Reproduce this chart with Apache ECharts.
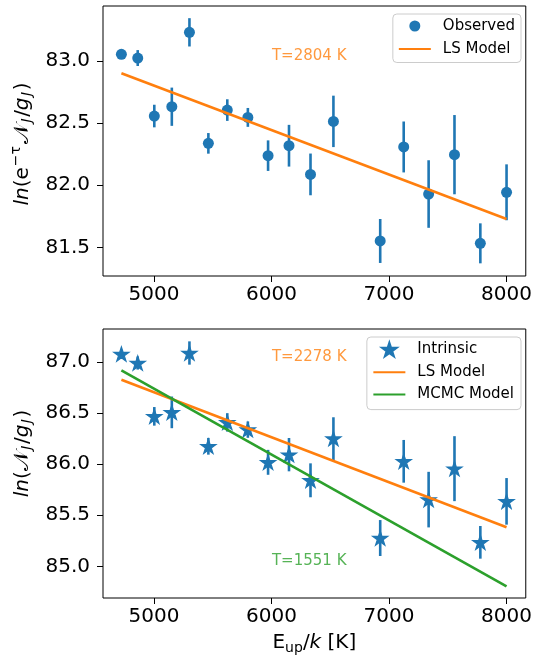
<!DOCTYPE html>
<html><head><meta charset="utf-8">
<script src="https://cdn.jsdelivr.net/npm/echarts@6/dist/echarts.min.js"></script>
<style>html,body{margin:0;padding:0;background:#fff}#c{width:535px;height:660px}</style>
</head><body><div id="c"></div>
<script>
// ---- data ----
const energies = [4723,4862,5003,5152,5302,5463,5624,5799,5971,6149,6332,6527,6925,7125,7337,7557,7777,8000];
const observed = [83.054,83.024,82.557,82.632,83.231,82.337,82.605,82.546,82.238,82.318,82.087,82.514,81.551,82.308,81.929,82.246,81.532,81.943];
const observedErr = [0.02,0.064,0.091,0.154,0.114,0.083,0.087,0.076,0.123,0.168,0.168,0.207,0.177,0.205,0.272,0.319,0.161,0.225];
const intrinsic = [87.078,86.990,86.468,86.507,87.088,86.175,86.409,86.338,86.018,86.093,85.842,86.250,85.277,86.028,85.653,85.956,85.235,85.636];
const intrinsicErr = [0.02,0.064,0.091,0.155,0.114,0.082,0.090,0.080,0.122,0.163,0.166,0.209,0.176,0.209,0.272,0.318,0.160,0.228];
const modelX = [4723, 8000];
const lsObserved = [82.901, 81.728];
const lsIntrinsic = [86.827, 85.382];
const mcmcIntrinsic = [86.918, 84.804];
const xTicks = [5000, 6000, 7000, 8000];
const topYTicks = [81.5, 82.0, 82.5, 83.0];
const bottomYTicks = [85.0, 85.5, 86.0, 86.5, 87.0];
const topNotes = [{x: 6321, y: 83.04, text: 'T=2804 K', color: '#ff7f0e'}];
const bottomNotes = [{x: 6321, y: 87.046, text: 'T=2278 K', color: '#ff7f0e'}, {x: 6321, y: 85.049, text: 'T=1551 K', color: '#2ca02c'}];

// ---- styling ----
const FONT = 'DejaVu Sans';
const BLUE = '#1f77b4', ORANGE = '#ff7f0e', GREEN = '#2ca02c';
function starPath() {
  const pts = [];
  for (let i = 0; i < 10; i++) {
    const r = i % 2 === 0 ? 1 : 0.381966;
    const a = -Math.PI / 2 + i * Math.PI / 5;
    pts.push((r * Math.cos(a)).toFixed(4) + ' ' + (r * Math.sin(a)).toFixed(4));
  }
  return 'path://M' + pts.join(' L') + ' Z';
}
const STAR = starPath();

const chart = echarts.init(document.getElementById('c'), null, {renderer: 'canvas'});
const labelStyle = {fontFamily: FONT, fontSize: 20, color: '#000'};
function xAxis(gi, showName) {
  return {
    type: 'value', gridIndex: gi, min: 4566.5, max: 8163.5,
    axisLine: {show: false},
    axisTick: {show: true, length: 6, inside: false, customValues: xTicks, lineStyle: {color: '#000', width: 1}},
    axisLabel: Object.assign({margin: 9, customValues: xTicks, formatter: v => String(v)}, labelStyle),
    splitLine: {show: false},
    name: showName ? '{n|E}{sub|up}{n|/}{i|k}{n| [K]}' : '',
    nameLocation: 'middle', nameGap: 33,
    nameTextStyle: {fontFamily: FONT, fontSize: 20, color: '#000', rich: {
      n: {fontFamily: FONT, fontSize: 20, color: '#000'},
      i: {fontFamily: FONT, fontSize: 20, fontStyle: 'italic', color: '#000'},
      sub: {fontFamily: FONT, fontSize: 14, color: '#000', padding: [10, 0, 0, 0]}
    }}
  };
}
function yAxis(gi, min, max, ticks, name, shiftPad) {
  return {
    type: 'value', gridIndex: gi, min: min, max: max,
    axisLine: {show: false},
    axisTick: {show: true, length: 6, customValues: ticks, lineStyle: {color: '#000', width: 1}},
    axisLabel: Object.assign({margin: 13, customValues: ticks, formatter: v => v.toFixed(1)}, labelStyle),
    splitLine: {show: false},
    name: name, nameLocation: 'middle', nameRotate: 90, nameGap: 67,
    nameTextStyle: {fontFamily: FONT, fontSize: 20, color: '#000', padding: shiftPad, rich: {
      n: {fontFamily: FONT, fontSize: 20, color: '#000'},
      i: {fontFamily: FONT, fontSize: 20, fontStyle: 'italic', color: '#000'},
      c: {fontFamily: FONT, fontSize: 21, color: '#000'},
      sup: {fontFamily: FONT, fontSize: 14, color: '#000', padding: [0, 2, 12, 1]},
      sub: {fontFamily: FONT, fontSize: 14, fontStyle: 'italic', color: '#000', padding: [10, 1.5, 0, 1.5]}
    }}
  };
}
function errSeries(xi, yi, ys, errs) {
  return {
    type: 'custom', xAxisIndex: xi, yAxisIndex: yi, silent: true, z: 2,
    data: energies.map((x, i) => [x, ys[i], errs[i]]),
    renderItem: (params, api) => {
      const x = api.value(0), y = api.value(1), e = api.value(2);
      const p1 = api.coord([x, y - e]), p2 = api.coord([x, y + e]);
      return {type: 'line', shape: {x1: p1[0], y1: p1[1], x2: p2[0], y2: p2[1]}, style: {stroke: BLUE, lineWidth: 2.6}};
    }
  };
}
function noteSeries(xi, yi, notes) {
  return notes.map(n => ({
    type: 'scatter', xAxisIndex: xi, yAxisIndex: yi, silent: true, symbolSize: 1,
    itemStyle: {color: 'rgba(0,0,0,0)'}, z: 5,
    data: [[n.x, n.y]],
    label: {show: true, position: 'inside', formatter: n.text, color: n.color, fontFamily: FONT, fontSize: 15}
  }));
}
const legendBase = {
  orient: 'vertical', right: 14, itemWidth: 32, itemGap: 8,
  backgroundColor: '#fff', borderColor: '#cccccc', borderWidth: 1, borderRadius: 4,
  textStyle: {fontFamily: FONT, fontSize: 15, color: '#000', padding: [0, 0, 0, 7]},
  selectedMode: false
};
const hideSym = {color: 'rgba(0,0,0,0)', borderWidth: 0};

const option = {
  animation: false,
  backgroundColor: '#fff',
  grid: [
    {left: 103, top: 6, width: 425, height: 270, show: true, borderColor: '#000', borderWidth: 1, backgroundColor: 'transparent'},
    {left: 103, top: 329, width: 425, height: 269, show: true, borderColor: '#000', borderWidth: 1, backgroundColor: 'transparent'}
  ],
  xAxis: [xAxis(0, false), xAxis(1, true)],
  yAxis: [
    yAxis(0, 81.269, 83.443, topYTicks, '{i|ln}{n|(e}{sup|−τ}{c|𝒩}{sub|J}{n|/}{i|g}{sub|J}{n|)}', [0, 6, 0, 0]),
    yAxis(1, 84.69, 87.323, bottomYTicks, '{i|ln}{n|(}{c|𝒩}{sub|J}{n|/}{i|g}{sub|J}{n|)}', [0, 0, 0, 20])
  ],
  legend: [
    Object.assign({}, legendBase, {top: 14, itemHeight: 11, padding: [4.5, 6, 6, 5],
      data: ['Observed', {name: 'LS Model', itemStyle: hideSym}]}),
    Object.assign({}, legendBase, {top: 337, itemHeight: 14, itemGap: 7.3, padding: [4.5, 7, 7.5, 5.5],
      data: ['Intrinsic', {name: 'LS Model ', itemStyle: hideSym}, {name: 'MCMC Model', itemStyle: hideSym}]})
  ],
  series: [
    errSeries(0, 0, observed, observedErr),
    {name: 'Observed', type: 'scatter', xAxisIndex: 0, yAxisIndex: 0, symbol: 'circle', symbolSize: 11, z: 3,
     itemStyle: {color: BLUE, opacity: 1}, data: energies.map((x, i) => [x, observed[i]])},
    {name: 'LS Model', type: 'line', xAxisIndex: 0, yAxisIndex: 0, symbol: 'none', z: 4,
     lineStyle: {color: ORANGE, width: 2.6}, itemStyle: {color: ORANGE}, data: modelX.map((x, i) => [x, lsObserved[i]])},
    ...noteSeries(0, 0, topNotes),
    errSeries(1, 1, intrinsic, intrinsicErr),
    {name: 'Intrinsic', type: 'scatter', xAxisIndex: 1, yAxisIndex: 1, symbol: STAR, symbolKeepAspect: true, symbolSize: 15, z: 3,
     itemStyle: {color: BLUE, opacity: 1, borderColor: BLUE, borderWidth: 1.2}, data: energies.map((x, i) => [x, intrinsic[i]])},
    {name: 'LS Model ', type: 'line', xAxisIndex: 1, yAxisIndex: 1, symbol: 'none', z: 4,
     lineStyle: {color: ORANGE, width: 2.6}, itemStyle: {color: ORANGE}, data: modelX.map((x, i) => [x, lsIntrinsic[i]])},
    {name: 'MCMC Model', type: 'line', xAxisIndex: 1, yAxisIndex: 1, symbol: 'none', z: 4,
     lineStyle: {color: GREEN, width: 2.6}, itemStyle: {color: GREEN}, data: modelX.map((x, i) => [x, mcmcIntrinsic[i]])},
    ...noteSeries(1, 1, bottomNotes)
  ]
};
chart.setOption(option);
</script>
</body></html>
